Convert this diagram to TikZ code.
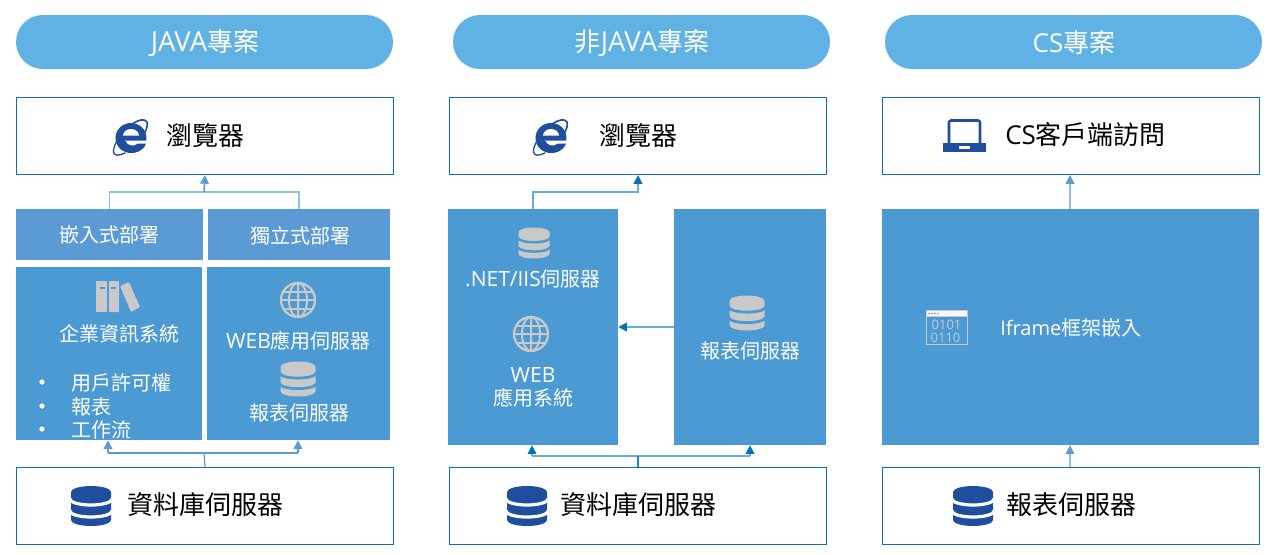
\documentclass[tikz,border=0pt]{standalone}
\usepackage{fontspec}
\setmainfont{Noto Sans CJK TC}
\newfontfamily\lt{Open Sans}
\usetikzlibrary{arrows.meta}
\definecolor{pill}{HTML}{5FB2E3}
\definecolor{frame}{HTML}{0F6FB9}
\definecolor{blockA}{HTML}{5B9BD5}
\definecolor{blockB}{HTML}{4B9AD3}
\definecolor{iconblue}{HTML}{1F4E9E}
\definecolor{icongrey}{HTML}{C9C9C9}
\definecolor{linelight}{HTML}{8FBFE6}
\definecolor{linemid}{HTML}{5B9BD5}
\definecolor{linedark}{HTML}{0070C0}
\definecolor{linesoft}{HTML}{66ADE0}
\newcommand\fpx[1]{\pgfmathsetmacro\fsz{#1*0.75}\fontsize{\fsz pt}{\fsz pt}\selectfont}
\newcommand\bx[6][]{\node[#1,minimum width={(#5-#3)*.75pt},minimum height={(#6-#4)*.75pt}] (#2) at ({(#3+#5)/2},{(#4+#6)/2}) {};}
\newcommand\dbicon[5]{\begin{scope}[shift={(#1,#2)},scale=#3/40]
\fill[#4] (-20,-14) arc[start angle=180,end angle=360,x radius=20,y radius=6] -- (20,14) arc[start angle=0,end angle=180,x radius=20,y radius=6] -- cycle;
\draw[#5,line width={#3*.06pt}] (-21,-7) arc[start angle=180,end angle=0,x radius=21,y radius=6];
\draw[#5,line width={#3*.06pt}] (-21,5) arc[start angle=180,end angle=0,x radius=21,y radius=6];
\end{scope}}
\newcommand\globeicon[2]{\begin{scope}[shift={(#1,#2)}]
\begin{scope}\clip (0,0) circle[radius=17.5];
\draw[icongrey,line width=1.5pt] (0,0) ellipse[x radius=9,y radius=17] (0,-18) -- (0,18) (-18,0) -- (18,0);
\draw[icongrey,line width=1.5pt] (-18,-8.5) -- (18,-8.5) (-18,8.5) -- (18,8.5);
\end{scope}
\draw[icongrey,line width=1.7pt] (0,0) circle[radius=17];
\end{scope}}
\newcommand\ieicon[2]{\begin{scope}[shift={(#1,#2)}]
\fill[iconblue] (0,1) circle[x radius=15.5,y radius=15];
\fill[white] (-8,-1.5) arc[start angle=180,end angle=360,x radius=8,y radius=6.5] -- cycle;
\fill[white] (-6.5,3.5) -- (17,3.5) -- (17,11) -- (7,11) -- (7,8) .. controls (3,10) and (-3,10) .. (-6.5,3.5) -- cycle;
\fill[iconblue] (-5.5,4) .. controls (-4,9) and (3,10) .. (7,6.5) -- (15,6.5) .. controls (12,15) and (4,16) .. (0,15.5) .. controls (-8,15) and (-12,10) .. (-12,4) -- cycle;
\draw[iconblue,line width=1pt,line cap=round] (-6,16) .. controls (-12,19) and (-17,19) .. (-17.5,15) .. controls (-18,11) and (-15,4) .. (-9,-3);
\draw[iconblue,line width=1.2pt,line cap=round] (1,-13) .. controls (7,-17) and (14,-19) .. (16,-15) .. controls (17,-12) and (15.5,-8) .. (14,-5);
\end{scope}}
\tikzset{
 pillbox/.style={fill=pill,rounded corners=20.25pt,inner sep=0pt,text=white},
 framebox/.style={draw=frame,line width=.9pt,fill=white,inner sep=0pt},
 blocka/.style={fill=blockA,inner sep=0pt},
 blockb/.style={fill=blockB,inner sep=0pt},
 wlabel/.style={text=white,inner sep=0pt,font=\fpx{20}},
 klabel/.style={text=black,inner sep=0pt,font=\fpx{26},anchor=west},
 lightline/.style={draw=linelight,line width=1pt},
 midline/.style={draw=linemid,line width=1.2pt,-{Triangle[length=6.5pt,width=6.5pt]}},
 softarrow/.style={draw=linesoft,line width=1.1pt,-{Triangle[length=6.5pt,width=6.5pt,color=linedark]}},
 softline/.style={draw=linesoft,line width=1.1pt},
 digits/.style={inner sep=0pt,text=icongrey,font=\lt\fpx{13},text height=7pt,text depth=0pt},
}
\begin{document}
\begin{tikzpicture}[x=.75pt,y=-.75pt]
\useasboundingbox (0,0) rectangle (1271,554);
\fill[white] (0,0) rectangle (1271,554);
% pills
\bx[pillbox]{pa}{16}{15}{393}{69}
\bx[pillbox]{pb}{453}{15}{830}{69}
\bx[pillbox]{pc}{885}{15}{1262}{69}
\node[wlabel,font=\fpx{26}] (pat) at (205,43) {{\lt\fpx{27.5}JAVA}專案};
\node[wlabel,font=\fpx{26}] (pbt) at (642,43) {非{\lt\fpx{27.5}JAVA}專案};
\node[wlabel,font=\fpx{26}] (pct) at (1074,42.5) {{\lt\fpx{26}CS}專案};
% frames
\bx[framebox]{ta}{16.5}{97.5}{393.5}{174.5}
\bx[framebox]{tb}{449.5}{97.5}{826.5}{174.5}
\bx[framebox]{tc}{882.5}{97.5}{1259.5}{174.5}
\bx[framebox]{ba}{16.5}{467.5}{393.5}{544.5}
\bx[framebox]{bb}{449.5}{467.5}{826.5}{544.5}
\bx[framebox]{bc}{882.5}{467.5}{1259.5}{544.5}
% java blocks
\bx[blocka]{emb}{16}{209}{203}{260}
\bx[blocka]{ind}{208}{209}{390}{260}
\bx[blockb]{ent}{16}{267}{202}{440}
\bx[blockb]{web}{207}{267}{390}{440}
% non java blocks
\bx[blockb]{net}{448}{209}{618}{445}
\bx[blockb]{rep}{674}{209}{826}{445}
% cs block
\bx[blockb]{ifr}{882}{209}{1259}{445}
% junctions
\coordinate (j1) at (204,192);
\coordinate (j2) at (204,453);
\coordinate (j3) at (638,456);
\coordinate (ja) at (108,453);
\coordinate (jb) at (298,453);
\coordinate (jc) at (532,456);
\coordinate (jd) at (750,456);
\coordinate (je) at (533,192);
\coordinate (jf) at (638,192);
\coordinate (jg) at (1070,192);
% java connectors
\draw[lightline] (emb.north) |- (j1) -| (ind.north);
\draw[midline] (j1) -- (ta.south);
\draw[draw=linemid,line width=.9pt] (ba.north) -- (j2);
\draw[draw=linemid,line width=.9pt] (ja) -- (jb);
\draw[midline] (ja) -- (ent.south -| ja);
\draw[midline] (jb) -- (web.south -| jb);
% non java connectors
\draw[softarrow] (net.north -| je) -- (je) -- (jf) -- (tb.south -| jf);
\draw[softarrow] (rep.west) -- (net.east);
\draw[softline] (jc) -- (jd);
\draw[draw=linedark!85!white,line width=.8pt] (bb.north -| j3) -- (j3);
\draw[softarrow] (jc) -- (net.south -| jc);
\draw[softarrow] (jd) -- (rep.south -| jd);
% cs connectors
\draw[lightline,-{Triangle[length=6.5pt,width=6.5pt,color=linemid]}] (ifr.north -| jg) -- (tc.south -| jg);
\draw[lightline,-{Triangle[length=6.5pt,width=6.5pt,color=linemid]}] (bc.north -| jg) -- (ifr.south -| jg);
% icons top
\ieicon{131}{137}
\ieicon{551}{137}
\node[klabel] (tat) at (166,136) {瀏覽器};
\node[klabel] (tbt) at (599,136) {瀏覽器};
% laptop
\draw[iconblue,line width=1.9pt,rounded corners=1.5pt] (949,146) -- (949,120.5) -- (980,120.5) -- (980,146);
\fill[iconblue] (943,143) rectangle (986,152);
\fill[white] (959,146) rectangle (970,149);
\node[klabel] (tct) at (1005,135) {{\lt\fpx{26}CS}客戶端訪問};
% db bottom
\dbicon{91}{506}{40}{iconblue}{white}
\dbicon{527}{506}{40}{iconblue}{white}
\dbicon{973}{506}{40}{iconblue}{white}
\node[klabel] (bat) at (127,505) {資料庫伺服器};
\node[klabel] (bbt) at (560.5,505) {資料庫伺服器};
\node[klabel] (bct) at (1006,505) {報表伺服器};
% java labels
\node[wlabel] (embt) at (109.5,235) {嵌入式部署};
\node[wlabel] (indt) at (300,236) {獨立式部署};
% books
\fill[icongrey,rounded corners=.7pt] (96,281) rectangle (107,312);
\fill[icongrey,rounded corners=.7pt] (109,281) rectangle (119,312);
\fill[icongrey,rounded corners=.7pt] (120,286) -- (129,282) -- (140,307) -- (131,312) -- cycle;
\fill[blockB] (100,286.5) rectangle (105,288.5);
\fill[blockB] (111,286.5) rectangle (116,288.5);
\node[wlabel] (entt) at (119.5,334) {企業資訊系統};
\node[wlabel,anchor=west] (l1) at (71,383) {用戶許可權};
\node[wlabel,anchor=west] (l2) at (71,407) {報表};
\node[wlabel,anchor=west] (l3) at (71,430) {工作流};
\foreach \yy in {382,406,429}{\fill[white] (42,\yy) circle[radius=2.6];}
\globeicon{298}{300}
\node[wlabel] (webt) at (298.5,341) {{\lt\fpx{21}WEB}應用伺服器};
\dbicon{298}{379}{35}{icongrey}{blockB}
\node[wlabel] (rept) at (299,413) {報表伺服器};
% non java labels
\dbicon{534}{243}{31}{icongrey}{blockB}
\node[wlabel] (nett) at (533,279) {{\lt\fpx{21}.NET/IIS}伺服器};
\globeicon{531}{334}
\node[wlabel,font=\lt\fpx{21}] (wt1) at (533,375) {WEB};
\node[wlabel] (wt2) at (533,398) {應用系統};
\dbicon{747}{313}{35}{icongrey}{blockB}
\node[wlabel] (rt) at (750,351) {報表伺服器};
% cs labels
\draw[icongrey,line width=.9pt] (926.5,310.5) rectangle (967.5,344.5);
\fill[white!85!icongrey] (927,311) rectangle (967,316);
\foreach \xx in {929,932,935,938}{\fill[icongrey!70!black] (\xx,313.5) circle[radius=.9];}
\draw[icongrey,line width=.6pt] (926.5,316.5) -- (967.5,316.5);
\node[digits] (w1) at (946.5,325) {0101};
\node[digits] (w2) at (945.5,338) {0110};
\node[wlabel,anchor=west] (ift) at (1000,328) {{\lt\fpx{20}Iframe}框架嵌入};
\end{tikzpicture}
\end{document}
